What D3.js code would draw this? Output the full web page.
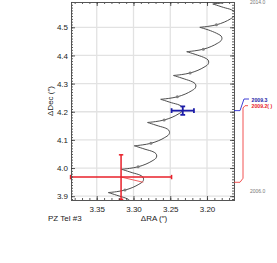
<!DOCTYPE html>
<html><head><meta charset="utf-8">
<script src="https://cdn.jsdelivr.net/npm/d3@7/dist/d3.min.js"></script>
<style>
html,body{margin:0;padding:0;background:#fff;}
svg{display:block;font-family:"Liberation Sans",Arial,sans-serif;}
</style></head>
<body>
<svg id="c" width="277" height="263"></svg>
<script>
// ---- data (arcsec) ----
const curveRA = [3.3052,3.3040,3.3050,3.3091,3.3196,3.3315,3.3342,3.3317,3.3233,3.3116,3.3009,3.2927,3.2875,3.2863,3.2873,3.2914,3.3017,3.3136,
3.3163,3.3138,3.3054,3.2937,3.2830,3.2748,3.2696,3.2684,3.2694,3.2735,3.2843,3.2962,
3.2989,3.2964,3.2880,3.2763,3.2656,3.2574,3.2522,3.2510,3.2520,3.2561,3.2663,3.2782,
3.2809,3.2784,3.2700,3.2583,3.2476,3.2394,3.2342,3.2330,3.2340,3.2381,3.2484,3.2603,
3.2630,3.2605,3.2521,3.2404,3.2297,3.2215,3.2163,3.2151,3.2161,3.2202,3.2310,3.2429,
3.2456,3.2431,3.2347,3.2230,3.2123,3.2041,3.1989,3.1977,3.1987,3.2028,3.2130,3.2249,
3.2276,3.2251,3.2167,3.2050,3.1943,3.1861,3.1809,3.1797,3.1807,3.1848,3.1952,3.2071,
3.2098,3.2073,3.1989,3.1872,3.1765,3.1683,3.1631,3.1619,3.1629,3.1670,3.1776,3.1895,
3.1922,3.1897,3.1813,3.1696,3.1589,3.1507];
const curveDec = [3.8681,3.8763,3.8844,3.8915,3.9007,3.9107,3.9128,3.9135,3.9160,3.9217,3.9313,3.9423,3.9519,3.9601,3.9682,3.9753,3.9835,3.9935,
3.9956,3.9963,3.9988,4.0045,4.0141,4.0251,4.0347,4.0429,4.0510,4.0581,4.0669,4.0769,
4.0790,4.0797,4.0822,4.0879,4.0975,4.1085,4.1181,4.1263,4.1344,4.1415,4.1497,4.1597,
4.1618,4.1625,4.1650,4.1707,4.1803,4.1913,4.2009,4.2091,4.2172,4.2243,4.2321,4.2421,
4.2442,4.2449,4.2474,4.2531,4.2627,4.2737,4.2833,4.2915,4.2996,4.3067,4.3167,4.3267,
4.3288,4.3295,4.3320,4.3377,4.3473,4.3583,4.3679,4.3761,4.3842,4.3913,4.4012,4.4112,
4.4133,4.4140,4.4165,4.4222,4.4318,4.4428,4.4524,4.4606,4.4687,4.4758,4.4879,4.4979,
4.5000,4.5007,4.5032,4.5089,4.5185,4.5295,4.5391,4.5473,4.5554,4.5625,4.5707,4.5807,
4.5828,4.5835,4.5860,4.5917,4.6013,4.6123];
const dotRA  = [3.3116,3.2937,3.2763,3.2583,3.2404,3.2230,3.2050,3.1872,3.1696];
const dotDec = [3.9217,4.0045,4.0879,4.1707,4.2531,4.3377,4.4222,4.5089,4.5917];
const obsEpoch = ["2009.2( )","2009.3"];
const obsRA    = [3.3169,3.2330];
const obsDec   = [3.9680,4.2040];
const obsErrRA = [0.0687,0.0152];
const obsErrDec= [0.0790,0.0150];
const predRA = [3.2868], predDec = [3.9495];   // model position linked to red point
const xTicks = [3.35,3.30,3.25,3.20];
const yTicks = [3.9,4.0,4.1,4.2,4.3,4.4,4.5];
const endEpochs = ["2014.0","2006.0"];

// ---- layout ----
const L=71,R=234,T=2,B=200;
const svg=d3.select("#c");
const x=d3.scaleLinear().domain([3.385,3.1633]).range([L,R]);
const y=d3.scaleLinear().domain([3.8865,4.5899]).range([B,T]);

svg.append("defs").append("clipPath").attr("id","pc")
  .append("rect").attr("x",L).attr("y",T).attr("width",R-L).attr("height",B-T);

// grid
const g=svg.append("g");
g.selectAll(".gx").data(xTicks).join("line")
  .attr("x1",d=>x(d)).attr("x2",d=>x(d)).attr("y1",T).attr("y2",B)
  .attr("stroke","#e2e2e2").attr("stroke-width",1.3);
g.selectAll(".gy").data(yTicks).join("line")
  .attr("y1",d=>y(d)).attr("y2",d=>y(d)).attr("x1",L).attr("x2",R)
  .attr("stroke","#e2e2e2").attr("stroke-width",1.3);

// curve
const pts=curveRA.map((v,i)=>[v,curveDec[i]]);
const line=d3.line().x(d=>x(d[0])).y(d=>y(d[1])).curve(d3.curveCatmullRom.alpha(0.5));
const pg=svg.append("g").attr("clip-path","url(#pc)");
pg.append("path").attr("d",line(pts)).attr("fill","none").attr("stroke","#3a3a3a").attr("stroke-width",0.9);
pg.selectAll(".dot").data(dotRA).join("circle")
  .attr("cx",d=>x(d)).attr("cy",(d,i)=>y(dotDec[i])).attr("r",1.5).attr("fill","#808080");

// red link line
pg.append("line").attr("x1",x(obsRA[0])).attr("y1",y(obsDec[0]))
  .attr("x2",x(predRA[0])).attr("y2",y(predDec[0])).attr("stroke","#f06060").attr("stroke-width",1);

// error bars
const cols=["#e8202a","#1c1ca8"], sw=[1.5,1.8], cap=[2.2,2.4];
obsRA.forEach((v,i)=>{
  const gg=svg.append("g").attr("stroke",cols[i]).attr("stroke-width",sw[i]).attr("fill","none");
  const cx=x(v), cy=y(obsDec[i]);
  const x0=x(v+obsErrRA[i]), x1=x(v-obsErrRA[i]);
  const y0=y(obsDec[i]-obsErrDec[i]), y1=y(obsDec[i]+obsErrDec[i]);
  gg.append("line").attr("x1",x0).attr("x2",x1).attr("y1",cy).attr("y2",cy);
  gg.append("line").attr("x1",cx).attr("x2",cx).attr("y1",y0).attr("y2",y1);
  [x0,x1].forEach(xx=>gg.append("line").attr("x1",xx).attr("x2",xx).attr("y1",cy-cap[i]).attr("y2",cy+cap[i]));
  [y0,y1].forEach(yy=>gg.append("line").attr("y1",yy).attr("y2",yy).attr("x1",cx-cap[i]).attr("x2",cx+cap[i]));
});

// axes
const minorX=d3.range(3.38,3.16,-0.01).map(d=>+d.toFixed(2));
const minorY=d3.range(3.89,4.595,0.01).map(d=>+d.toFixed(2));
function ax(gen,scale,tv,size,tr,labels,fmt,pad){
  const a=gen(scale).tickValues(tv).tickSize(size).tickPadding(pad||3);
  if(labels) a.tickFormat(d3.format(fmt)); else a.tickFormat("");
  const s=svg.append("g").attr("transform",tr).call(a);
  s.select(".domain").attr("stroke","#555").attr("stroke-width",1);
  s.selectAll(".tick line").attr("stroke","#333").attr("stroke-width",0.8);
  s.selectAll("text").attr("fill","#222").style("font-size","8px").style("font-family","'Liberation Sans',Arial,sans-serif");
  return s;
}
ax(d3.axisBottom,x,minorX,-2,`translate(0,${B})`,false);
ax(d3.axisBottom,x,xTicks,-4,`translate(0,${B})`,true,".2f",6);
ax(d3.axisTop,x,minorX,-2,`translate(0,${T})`,false);
ax(d3.axisTop,x,xTicks,-4,`translate(0,${T})`,false);
ax(d3.axisLeft,y,minorY,-2,`translate(${L},0)`,false);
ax(d3.axisLeft,y,yTicks,-4,`translate(${L},0)`,true,".1f",3);
ax(d3.axisRight,y,minorY,-2,`translate(${R},0)`,false);
ax(d3.axisRight,y,yTicks,-4,`translate(${R},0)`,false);

// axis titles
svg.append("text").attr("x",48).attr("y",221).text("PZ Tel #3")
  .attr("font-size",8).attr("fill","#222");
svg.append("text").attr("x",154).attr("y",221).attr("text-anchor","middle").text("\u0394RA (\u2033)")
  .attr("font-size",8).attr("fill","#222");
svg.append("text").attr("transform","translate(52.5,101) rotate(-90)").attr("text-anchor","middle")
  .text("\u0394Dec (\u2033)").attr("font-size",8).attr("fill","#222");

// epoch annotations
const by=y(obsDec[1]), ry=y(predDec[0]);
svg.append("path").attr("d",`M${R},${by}H${R+6}L${R+10},99H${R+15}`)
  .attr("fill","none").attr("stroke","#2a2ad0").attr("stroke-width",0.9);
svg.append("path").attr("d",`M${R},${ry}H${R+6}L${R+9},${ry-4}V108L${R+11},105.7H${R+14}`)
  .attr("fill","none").attr("stroke","#f04040").attr("stroke-width",0.9);
svg.append("text").attr("x",251.5).attr("y",101.5).text(obsEpoch[1]).attr("font-size",5.2).attr("fill","#1c1ca8").attr("font-weight","bold");
svg.append("text").attr("x",251.5).attr("y",108).text(obsEpoch[0]).attr("font-size",5.2).attr("fill","#e8202a").attr("font-weight","bold");
svg.append("text").attr("x",250).attr("y",4).text(endEpochs[0]).attr("font-size",5).attr("fill","#777");
svg.append("text").attr("x",250).attr("y",192.5).text(endEpochs[1]).attr("font-size",5).attr("fill","#777");
</script>
</body></html>
